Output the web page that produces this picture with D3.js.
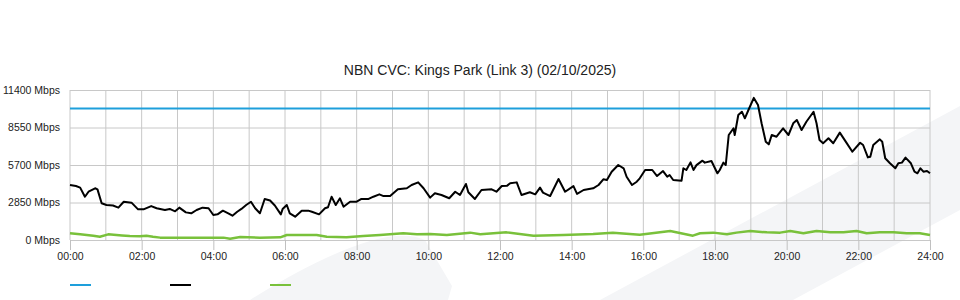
<!DOCTYPE html>
<html>
<head>
<meta charset="utf-8">
<script src="https://cdn.jsdelivr.net/npm/d3@7"></script>
<style>
  html, body { margin: 0; padding: 0; background: #fff; }
  svg { display: block; font-family: "Liberation Sans", Arial, sans-serif; }
</style>
</head>
<body>
<svg id="chart" width="960" height="300"></svg>
<script>
// ---- Data ----
const title = "NBN CVC: Kings Park (Link 3) (02/10/2025)";
const yTicks = [0, 2850, 5700, 8550, 11400];
const xTickMinutes = [0, 120, 240, 360, 480, 600, 720, 840, 960, 1080, 1200, 1320, 1440];
const xTickLabels = ["00:00","02:00","04:00","06:00","08:00","10:00","12:00","14:00","16:00","18:00","20:00","22:00","24:00"];

// Capacity (blue)
const capacityMinutes = [0, 1440];
const capacityValues = [10000, 10000];

// Traffic (black) — minutes since midnight, Mbps
const trafficMinutes = [0,10,17,25,31,42,46,53,61,72,81,90,103,114,123,136,145,159,167,176,183,194,203,212,222,232,240,247,256,265,272,280,287,295,303,310,318,326,335,343,353,356,363,368,377,388,399,405,417,427,432,438,445,452,458,469,480,488,500,508,518,525,536,549,564,572,583,592,603,611,622,635,645,653,663,667,678,689,706,714,723,732,737,748,756,770,779,787,792,804,818,829,843,849,860,876,885,893,899,907,918,927,932,941,949,954,963,975,983,993,1000,1004,1010,1024,1027,1032,1039,1044,1049,1059,1063,1074,1084,1088,1094,1098,1103,1111,1113,1119,1125,1130,1136,1145,1152,1158,1165,1170,1175,1183,1194,1203,1211,1217,1225,1233,1245,1250,1255,1261,1270,1278,1289,1300,1310,1323,1328,1336,1340,1345,1356,1360,1365,1373,1382,1387,1393,1399,1408,1414,1419,1424,1429,1435,1440];
const trafficValues = [4180,4100,3980,3290,3670,3930,3850,2790,2660,2620,2460,2910,2840,2330,2330,2580,2410,2280,2360,2180,2460,2100,2030,2280,2460,2410,1900,1950,2230,2030,1850,2150,2360,2660,2910,2410,2030,3120,3000,2620,1950,2350,2660,2030,1770,2230,2230,2150,1950,2410,2490,3290,2660,3170,2530,2910,2910,3120,3120,3290,3470,3340,3340,3850,3930,4180,4380,3930,3220,3550,3420,3170,3670,3420,4260,3630,3120,3800,3850,3670,4100,4130,4310,4380,3420,3630,3470,3980,3600,3340,4640,3670,4100,3500,3800,3930,4180,4610,4560,5190,5700,5450,4810,4180,4430,4690,5320,5320,4860,5240,4810,4940,4560,4510,5450,5320,5900,5320,5690,6030,5880,6000,5070,5320,5880,5700,7980,8490,7980,9500,9750,9250,9880,10800,10260,8870,7470,7270,7980,7850,8490,7980,8870,9120,8360,8990,9750,8870,7600,7350,7730,7350,8160,7400,6710,7390,7220,6280,6330,7220,7650,7470,6210,5830,5450,5830,5880,6260,5830,5190,5070,5450,5190,5240,5070];

// Upstream (green)
const upMinutes = [0,17,39,50,64,87,100,117,128,139,151,257,268,285,318,352,363,413,430,463,491,519,558,581,603,631,670,687,731,776,826,876,909,954,1005,1043,1055,1077,1100,1116,1139,1167,1189,1206,1228,1250,1273,1295,1317,1334,1356,1379,1401,1423,1440];
const upValues = [510,430,330,250,430,350,300,280,330,250,180,180,100,230,180,200,380,380,250,200,300,380,510,430,456,380,560,430,580,330,380,456,560,400,680,330,510,560,430,560,680,580,560,680,510,680,580,580,680,510,580,580,510,510,380];

const seriesColors = ["#1e9fdb", "#000000", "#79c13b"];

// ---- Layout ----
const svg = d3.select("#chart");
const plotLeft = 70, plotRight = 930, plotTop = 90, plotBottom = 240;

const x = d3.scaleLinear().domain([0, 1440]).range([plotLeft, plotRight]);
const y = d3.scaleLinear().domain([0, 11400]).range([plotBottom, plotTop]);

// background watermark shapes
svg.append("path")
  .attr("d", "M250,300 Q320,256 370,241 Q405,231 425,240 L452,286 L448,300 Z")
  .attr("fill", "#f4f5f7");
svg.append("path")
  .attr("d", "M600,300 L960,106 L960,210 L793,300 Z")
  .attr("fill", "#f4f5f7");

// title
svg.append("text")
  .attr("x", 480).attr("y", 75)
  .attr("text-anchor", "middle")
  .attr("font-size", "14px")
  .attr("fill", "#222")
  .text(title);

// vertical grid (hourly)
const hours = d3.range(0, 1441, 60);
svg.append("g").selectAll("line").data(hours).join("line")
  .attr("x1", d => x(d)).attr("x2", d => x(d))
  .attr("y1", plotTop).attr("y2", plotBottom)
  .attr("stroke", "#c8c8c8").attr("stroke-width", 1);

// y axis with horizontal grid
const yAxis = d3.axisLeft(y).tickValues(yTicks).tickSize(-(plotRight - plotLeft)).tickPadding(10)
  .tickFormat(d => d + " Mbps");
const gy = svg.append("g").attr("transform", `translate(${plotLeft},0)`).call(yAxis);
gy.select(".domain").remove();
gy.selectAll(".tick line").attr("stroke", "#c8c8c8");
gy.selectAll(".tick text").attr("font-size", "10.5px").attr("fill", "#222")
  .attr("font-family", "'Liberation Sans', Arial, sans-serif");

// x axis
const xAxis = d3.axisBottom(x).tickValues(xTickMinutes).tickSize(10).tickPadding(3)
  .tickFormat((d, i) => xTickLabels[i]);
const gx = svg.append("g").attr("transform", `translate(0,${plotBottom})`).call(xAxis);
gx.select(".domain").attr("stroke", "#c8c8c8");
gx.selectAll(".tick line").attr("stroke", "#c0c0c0");
gx.selectAll(".tick text").attr("font-size", "10.5px").attr("fill", "#222")
  .attr("font-family", "'Liberation Sans', Arial, sans-serif");

// lines
const line = d3.line().x(d => x(d[0])).y(d => y(d[1]));
const series = [
  { t: upMinutes, v: upValues, color: seriesColors[2], w: 2.5 },
  { t: capacityMinutes, v: capacityValues, color: seriesColors[0], w: 2 },
  { t: trafficMinutes, v: trafficValues, color: seriesColors[1], w: 2 }
];
series.forEach(s => {
  svg.append("path")
    .datum(s.t.map((t, i) => [t, s.v[i]]))
    .attr("d", line)
    .attr("fill", "none")
    .attr("stroke", s.color)
    .attr("stroke-width", s.w)
    .attr("stroke-linejoin", "round");
});

// legend (swatches only)
const legendX = [70, 170, 270];
svg.append("g").selectAll("line").data(seriesColors).join("line")
  .attr("x1", (d, i) => legendX[i]).attr("x2", (d, i) => legendX[i] + 21)
  .attr("y1", 285).attr("y2", 285)
  .attr("stroke", d => d).attr("stroke-width", 2);
</script>
</body>
</html>
